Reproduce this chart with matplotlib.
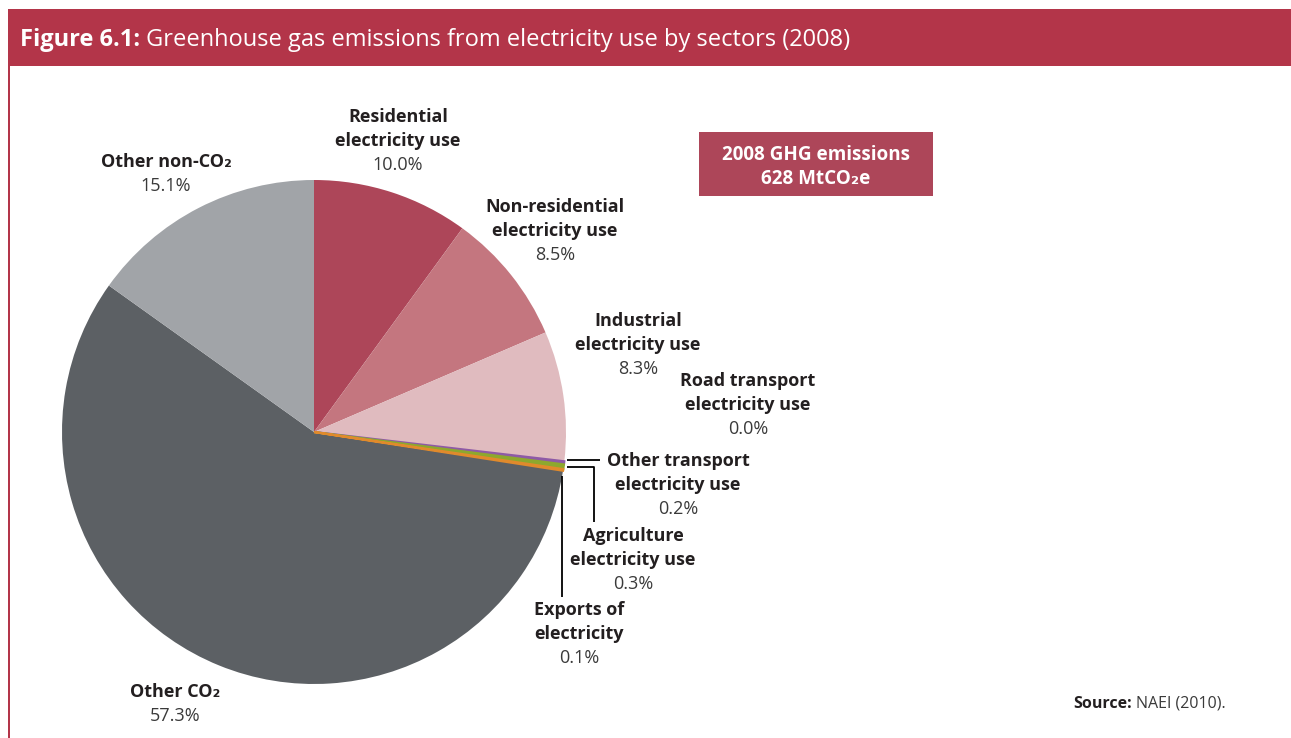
import matplotlib
matplotlib.use("Agg")
import matplotlib.pyplot as plt
from matplotlib.patches import Rectangle
import numpy as np

plt.rcParams['font.family'] = ['Open Sans', 'DejaVu Sans']

# ---------------- data ----------------
labels = ["Residential\nelectricity use", "Non-residential\nelectricity use",
          "Industrial\nelectricity use", "Road transport\nelectricity use",
          "Other transport\nelectricity use", "Agriculture\nelectricity use",
          "Exports of\nelectricity", "Other CO\u2082", "Other non-CO\u2082"]
values = [10.0, 8.5, 8.3, 0.0, 0.2, 0.3, 0.1, 57.3, 15.1]
pct_text = ["10.0%", "8.5%", "8.3%", "0.0%", "0.2%", "0.3%", "0.1%", "57.3%", "15.1%"]
colors = ["#AD4659", "#C4767F", "#E0BBBF", "#7FA7C9", "#8E5AA6", "#8DA82E",
          "#E08A2C", "#5C6064", "#A1A4A8"]

title_bold = "Figure 6.1:"
title_rest = "Greenhouse gas emissions from electricity use by sectors (2008)"
box_lines = ["2008 GHG emissions", "628 MtCO\u2082e"]

W, H = 1291, 738
fig = plt.figure(figsize=(W / 100, H / 100), dpi=100)
fig.patch.set_facecolor("white")

RED = "#B33549"

def fx(px):
    return px / W

def fy(py):
    return 1 - py / H

# header band
fig.patches.append(Rectangle((fx(8), fy(66)), fx(W) - fx(8), fy(9) - fy(66),
                             transform=fig.transFigure, facecolor=RED,
                             edgecolor="none", zorder=0))
# left border
fig.patches.append(Rectangle((fx(8), 0), 2 / W, fy(66),
                             transform=fig.transFigure, facecolor=RED,
                             edgecolor="none", zorder=0))

# pie axes: centre (314, 432), radius 252 px
cx, cy, r = 314, 432, 252
ax = fig.add_axes([fx(cx - r), fy(cy + r), 2 * r / W, 2 * r / H])
wedges, _ = ax.pie(values, colors=colors, startangle=90, counterclock=False,
                   radius=1, wedgeprops=dict(linewidth=0), frame=False)
# make the tiny slices visible like in the original artwork
for w, v, c in zip(wedges, values, colors):
    if 0 < v < 1:
        w.set_edgecolor(c)
        w.set_linewidth(1.6)
        w.set_zorder(3)
ax.set_xlim(-1, 1)
ax.set_ylim(-1, 1)
ax.axis("off")

def p2d(px, py):
    return ((px - cx) / r, (cy - py) / r)

def edge(w, frac=0.5):
    a = np.deg2rad(w.theta1 + (w.theta2 - w.theta1) * frac)
    return np.cos(a), np.sin(a)

# leader lines
lk = dict(color="black", lw=1.3, clip_on=False, solid_capstyle="butt", zorder=5)
x0, y0 = edge(wedges[4])
x1, _ = p2d(600, 0)
ax.plot([x0 + 0.01, x1], [y0 + 0.012, y0 + 0.012], **lk)
x0, y0 = edge(wedges[5])
xa, _ = p2d(594, 0)
_, ya = p2d(0, 522)
ax.plot([x0 + 0.012, xa, xa], [y0, y0, ya], **lk)
x0, y0 = edge(wedges[6])
_, yb = p2d(0, 597)
ax.plot([x0 - 0.004, x0 - 0.004], [y0 - 0.025, yb], **lk)

# labels (y of first line)
pos = [(398, 115), (555, 205), (638, 319), (748, 379), (678, 459),
       (633, 534), (579, 608), (175, 690), (166, 160)]
FS = 13
LEAD = 24
for lab, pt, (px, py) in zip(labels, pct_text, pos):
    lines = lab.split("\n")
    for i, ln in enumerate(lines):
        fig.text(fx(px), fy(py + LEAD * i), ln, ha="center", va="center_baseline",
                 fontsize=FS, fontweight="bold", color="#231F20")
    fig.text(fx(px), fy(py + LEAD * len(lines)), pt, ha="center",
             va="center_baseline", fontsize=FS, color="#3A3A3A")

# emissions box
fig.patches.append(Rectangle((fx(699), fy(196)), fx(933) - fx(699), fy(132) - fy(196),
                             transform=fig.transFigure, facecolor="#AD4659",
                             edgecolor="none"))
for i, ln in enumerate(box_lines):
    fig.text(fx(816), fy(152 + 24 * i), ln, ha="center", va="center_baseline",
             fontsize=13.6, fontweight="bold", color="white")

# title
fig.canvas.draw()
rend = fig.canvas.get_renderer()
t1 = fig.text(fx(20), fy(37), title_bold, ha="left", va="center_baseline",
              fontsize=17, fontweight="bold", color="white")
bb = t1.get_window_extent(rend)
fig.text(bb.x1 / W + 6 / W, fy(37), title_rest, ha="left", va="center_baseline",
         fontsize=17, color="white")

# source
s1 = fig.text(fx(1073), fy(702), "Source:", ha="left", va="center_baseline",
              fontsize=11.5, fontweight="bold", color="#231F20")
bb = s1.get_window_extent(rend)
fig.text(bb.x1 / W + 4 / W, fy(702), "NAEI (2010).", ha="left",
         va="center_baseline", fontsize=11.5, color="#3A3A3A")

fig.savefig("out.png", dpi=100)
